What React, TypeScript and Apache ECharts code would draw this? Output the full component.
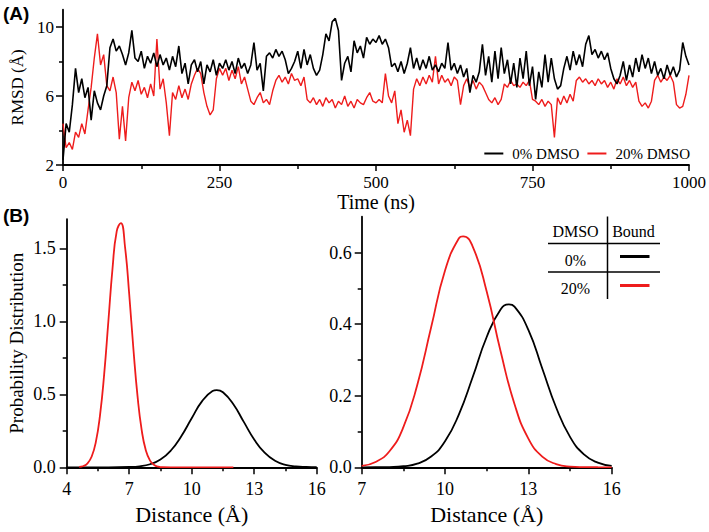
import React, { useEffect, useRef } from "react";
import * as echarts from "echarts";

// ---------- Panel A: RMSD time series (sampled every 5 ns) ----------
const TIME_STEP_NS = 5;
const RMSD_0_DMSO = [
  2.3, 4.4, 3.9, 5.5, 7.6, 6.2, 7.0, 5.9, 6.5, 4.6,
  6.3, 5.6, 5.2, 6.0, 6.6, 8.8, 9.3, 8.6, 8.9, 8.4,
  7.8, 8.5, 9.8, 8.2, 8.0, 8.6, 7.6, 8.3, 7.9, 8.5,
  7.7, 8.4, 7.8, 8.2, 7.5, 8.3, 7.7, 8.9, 7.3, 7.9,
  6.7, 7.8, 8.1, 7.4, 8.0, 6.7, 7.8, 7.4, 8.1, 7.2,
  7.9, 7.6, 8.1, 7.5, 8.0, 7.3, 8.2, 7.6, 7.9, 7.3,
  7.8, 9.1, 7.5, 7.9, 6.3, 8.3, 8.5, 8.2, 8.7, 8.3,
  8.6, 8.1, 7.3, 7.6, 8.0, 8.6, 7.6, 8.7, 7.8, 8.4,
  7.6, 7.2, 7.5, 8.4, 9.6, 9.2, 10.3, 10.5, 9.8, 6.9,
  7.9, 8.3, 7.4, 9.2, 8.5, 8.9, 8.2, 9.4, 9.0, 9.3,
  9.1, 9.5, 9.0, 9.3, 8.8, 7.7, 7.9, 7.4, 8.0, 7.3,
  7.9, 8.8, 7.6, 8.2, 7.5, 8.1, 7.6, 8.3, 7.5, 7.8,
  7.4, 7.9, 7.6, 9.1, 7.5, 7.9, 7.3, 7.8, 7.1, 7.6,
  6.2, 7.2, 6.8, 7.4, 9.0, 7.2, 8.3, 6.8, 8.6, 7.0,
  8.8, 7.3, 8.1, 6.7, 7.9, 6.5, 8.2, 7.0, 8.6, 6.6,
  7.7, 5.8, 7.4, 6.5, 8.4, 6.8, 8.2, 7.0, 6.4, 6.6,
  7.6, 8.3, 7.5, 8.6, 7.8, 8.4, 7.7, 9.0, 9.5, 8.4,
  8.7, 8.2, 8.6, 8.1, 8.5, 7.6, 7.0, 6.7, 7.2, 8.0,
  6.9, 7.8, 7.1, 8.2, 7.4, 8.4, 7.6, 8.2, 7.3, 8.0,
  7.2, 7.6, 7.0, 7.8, 7.2, 7.7, 7.1, 7.5, 9.1, 8.3,
  7.8,
];
const RMSD_20_DMSO = [
  4.4, 3.0, 3.3, 2.9, 3.9, 3.6, 4.4, 3.8, 5.2, 6.5,
  8.2, 9.6, 7.8, 8.4, 6.6, 6.3, 7.1, 6.2, 3.5, 5.4,
  3.4, 5.9, 6.8, 6.3, 6.9, 6.1, 6.5, 5.9, 6.7, 6.0,
  9.3, 6.4, 7.0, 5.6, 3.7, 6.2, 5.8, 6.6, 5.9, 6.4,
  5.8, 6.7, 7.2, 7.6, 7.3, 6.2, 5.4, 4.9, 5.2, 7.0,
  7.6, 7.2, 7.6, 6.9, 7.5, 7.0, 7.7, 6.7, 7.1, 6.4,
  5.7, 5.5, 5.9, 6.2, 5.6, 5.8, 5.5, 6.3, 6.9, 7.2,
  6.8, 7.1, 6.7, 7.3, 6.9, 7.0, 6.6, 7.1, 5.8, 5.6,
  5.9, 5.5, 5.8, 5.4, 5.9, 5.6, 5.8, 5.3, 5.7, 5.5,
  6.0, 5.4, 5.7, 5.3, 5.8, 5.6, 5.5, 5.9, 6.2, 5.7,
  5.6, 5.8, 5.6, 7.3, 6.0, 5.6, 6.3, 4.4, 5.2, 3.9,
  4.6, 3.7, 6.4, 7.0, 6.6, 7.1, 6.7, 7.2, 6.8, 8.3,
  6.7, 7.2, 6.8, 7.0, 6.6, 7.1, 6.9, 5.5, 6.6, 7.0,
  6.5, 6.9, 6.4, 6.8, 6.6, 6.2, 5.8, 5.6, 5.9, 5.5,
  5.8, 6.7, 6.5, 6.9, 6.6, 6.7, 6.5, 6.8, 6.6, 6.9,
  5.8, 5.7, 5.5, 5.8, 5.4, 5.7, 5.5, 3.6, 5.9, 5.5,
  6.0, 5.6, 6.1, 5.7, 6.9, 7.1, 6.8, 7.0, 6.7, 6.9,
  6.6, 7.0, 6.7, 6.9, 6.5, 6.8, 6.4, 7.0, 6.7, 7.1,
  6.6, 6.9, 6.5, 6.8, 5.7, 5.4, 5.6, 5.3, 5.7, 6.9,
  7.2, 6.8, 7.1, 6.9, 7.2, 6.8, 5.5, 5.3, 5.4, 6.1,
  7.2,
];
const TIME_TICK_LABELS = [0, 250, 500, 750, 1000];
const RMSD_TICK_LABELS = [2, 6, 10];
const RMSD_MINOR_TICKS = [4, 8];

// ---------- Panel B (left): distance distributions ----------
const BL_RED_X = [4.6, 4.8, 5.0, 5.2, 5.4, 5.6, 5.8, 6.0, 6.2, 6.4, 6.6, 6.8, 7.0, 7.2, 7.4, 7.6, 7.8, 8.0, 8.2, 8.4, 8.6, 9, 10, 11, 12];
const BL_RED_Y = [0.0025, 0.0088, 0.027, 0.074, 0.174, 0.358, 0.64, 1.0, 1.362, 1.616, 1.673, 1.509, 1.187, 0.814, 0.487, 0.254, 0.115, 0.046, 0.016, 0.005, 0.001, 0, 0, 0, 0];
const BL_BLACK_X = [4, 5, 6, 7, 7.5, 8, 8.5, 9, 9.5, 10, 10.5, 11, 11.2, 11.5, 12, 12.5, 13, 13.5, 14, 14.5, 15, 15.5, 16];
const BL_BLACK_Y = [0, 0, 0, 0.002, 0.007, 0.021, 0.053, 0.115, 0.213, 0.336, 0.453, 0.522, 0.529, 0.514, 0.432, 0.311, 0.191, 0.1, 0.045, 0.017, 0.006, 0.002, 0.0004];
const BL_X_LABELS = [4, 7, 10, 13, 16];
const BL_X_MINOR = [5.5, 8.5, 11.5, 14.5];
const BL_Y_LABELS = [0, 0.5, 1.0, 1.5];
const BL_Y_MINOR = [0.25, 0.75, 1.25];

// ---------- Panel B (right) ----------
const BR_RED_X = [7, 7.5, 8, 8.5, 9, 9.5, 10, 10.5, 10.65, 11, 11.5, 12, 12.5, 13, 13.5, 14, 14.5, 15, 15.5, 16];
const BR_RED_Y = [0.004, 0.015, 0.045, 0.112, 0.23, 0.391, 0.55, 0.64, 0.645, 0.616, 0.491, 0.324, 0.177, 0.08, 0.03, 0.009, 0.002, 0.0005, 0.0001, 0];
const BR_BLACK_X = [7, 7.5, 8, 8.5, 9, 9.5, 10, 10.5, 11, 11.5, 12, 12.3, 12.5, 13, 13.5, 14, 14.5, 15, 15.5, 16];
const BR_BLACK_Y = [0, 0.0001, 0.0007, 0.003, 0.01, 0.03, 0.0725, 0.148, 0.253, 0.364, 0.441, 0.455, 0.449, 0.384, 0.276, 0.167, 0.085, 0.036, 0.013, 0.004];
const BR_X_LABELS = [7, 10, 13, 16];
const BR_X_MINOR = [8.5, 11.5, 14.5];
const BR_Y_LABELS = [0, 0.2, 0.4, 0.6];
const BR_Y_MINOR = [0.1, 0.3, 0.5];

const SERIES_NAMES = ["0% DMSO", "20% DMSO"];
const TABLE_ROWS = ["0%", "20%"];

const SERIF = "'Liberation Serif', 'Times New Roman', serif";
const BLACK = "#000000";
const RED = "#ee1c1c";

const pairs = (xs: number[], ys: number[]) => xs.map((x, i) => [x, ys[i]]);
const timePairs = (ys: number[]) => ys.map((y, i) => [i * TIME_STEP_NS, y]);

const axisLineStyle = { lineStyle: { color: BLACK, width: 1.8 } };
const majorTick = (vals: number[] | null, length = 7) => ({
  show: true,
  length,
  lineStyle: { color: BLACK, width: 1.5 },
  ...(vals ? { customValues: vals } : {}),
});

function mainValueAxis(gridIndex: number, min: number, max: number, labels: number[], fontSize: number, margin: number, fmt?: (v: number) => string, extra: any = {}) {
  return {
    type: "value",
    gridIndex,
    min,
    max,
    axisLine: { show: true, onZero: false, ...axisLineStyle },
    axisTick: majorTick(labels),
    axisLabel: {
      customValues: labels,
      fontFamily: SERIF,
      fontSize,
      color: BLACK,
      margin,
      formatter: fmt ? fmt : (v: number) => String(v),
    },
    splitLine: { show: false },
    ...extra,
  };
}

function minorAxis(gridIndex: number, min: number, max: number, vals: number[], position: string) {
  return {
    type: "value",
    gridIndex,
    min,
    max,
    position,
    offset: 0,
    axisLine: { show: false },
    axisTick: { show: true, length: 4, customValues: vals, lineStyle: { color: BLACK, width: 1.5 } },
    axisLabel: { show: false },
    splitLine: { show: false },
  };
}

const curve = (xAxisIndex: number, yAxisIndex: number, data: number[][], color: string) => ({
  type: "line",
  xAxisIndex,
  yAxisIndex,
  data,
  symbol: "none",
  smooth: 0.5,
  lineStyle: { color, width: 1.8 },
});

export default function App() {
  const ref = useRef<HTMLDivElement>(null);

  useEffect(() => {
    if (!ref.current) return;
    const chart = echarts.init(ref.current, undefined, { renderer: "svg" });

    const nameStyle = (size: number) => ({ fontFamily: SERIF, fontSize: size, color: BLACK, fontWeight: "normal" });

    const option: any = {
      animation: false,
      backgroundColor: "#ffffff",
      textStyle: { fontFamily: SERIF },
      grid: [
        { left: 63, right: 19, top: 9.75, height: 155.25 },
        { left: 66.7, width: 250, top: 219.1, height: 248.2 },
        { left: 361.7, width: 250, top: 216.7, height: 250.6 },
      ],
      legend: {
        data: SERIES_NAMES,
        right: 19,
        top: 146,
        padding: 0,
        itemGap: 8,
        itemWidth: 19,
        itemHeight: 2,
        icon: "rect",
        textStyle: { fontFamily: SERIF, fontSize: 15, color: BLACK, padding: [0, 0, 0, 4] },
      },
      xAxis: [
        {
          type: "value",
          gridIndex: 0,
          min: 0,
          max: 1000,
          interval: 250,
          axisLine: { show: true, onZero: false, ...axisLineStyle },
          axisTick: majorTick(null, 6),
          minorTick: { show: true, splitNumber: 2, length: 4, lineStyle: { color: BLACK, width: 1.5 } },
          minorSplitLine: { show: false },
          axisLabel: {
            customValues: TIME_TICK_LABELS,
            fontFamily: SERIF,
            fontSize: 17,
            color: BLACK,
            margin: 9,
            formatter: (v: number) => String(v),
          },
          splitLine: { show: false },
          name: "Time (ns)",
          nameLocation: "middle",
          nameGap: 23,
          nameTextStyle: nameStyle(20),
        },
        mainValueAxis(1, 4, 16, BL_X_LABELS, 18, 13, undefined, {
          name: "Distance (Å)",
          nameLocation: "middle",
          nameGap: 36,
          nameTextStyle: nameStyle(22),
        }),
        minorAxis(1, 4, 16, BL_X_MINOR, "bottom"),
        mainValueAxis(2, 7, 16, BR_X_LABELS, 18, 13, undefined, {
          name: "Distance (Å)",
          nameLocation: "middle",
          nameGap: 36,
          nameTextStyle: nameStyle(22),
        }),
        minorAxis(2, 7, 16, BR_X_MINOR, "bottom"),
      ],
      yAxis: [
        mainValueAxis(0, 2, 11, RMSD_TICK_LABELS, 17, 9, undefined, {
          position: "left",
          name: "RMSD (Å)",
          nameLocation: "middle",
          nameGap: 24,
          nameTextStyle: nameStyle(17),
        }),
        minorAxis(0, 2, 11, RMSD_MINOR_TICKS, "left"),
        mainValueAxis(1, 0, 1.7, BL_Y_LABELS, 18, 11, (v: number) => v.toFixed(1), {
          position: "left",
          name: "Probability Distribution",
          nameLocation: "middle",
          nameGap: 41,
          nameTextStyle: nameStyle(19),
        }),
        minorAxis(1, 0, 1.7, BL_Y_MINOR, "left"),
        mainValueAxis(2, 0, 0.7, BR_Y_LABELS, 18, 10, (v: number) => v.toFixed(1), { position: "left" }),
        minorAxis(2, 0, 0.7, BR_Y_MINOR, "left"),
      ],
      series: [
        {
          name: SERIES_NAMES[1],
          type: "line",
          xAxisIndex: 0,
          yAxisIndex: 0,
          data: timePairs(RMSD_20_DMSO),
          symbol: "none",
          lineStyle: { color: RED, width: 1.4 },
          itemStyle: { color: RED },
        },
        {
          name: SERIES_NAMES[0],
          type: "line",
          xAxisIndex: 0,
          yAxisIndex: 0,
          data: timePairs(RMSD_0_DMSO),
          symbol: "none",
          lineStyle: { color: BLACK, width: 1.6 },
          itemStyle: { color: BLACK },
        },
        curve(1, 2, pairs(BL_BLACK_X, BL_BLACK_Y), BLACK),
        curve(1, 2, pairs(BL_RED_X, BL_RED_Y), RED),
        curve(3, 4, pairs(BR_BLACK_X, BR_BLACK_Y), BLACK),
        curve(3, 4, pairs(BR_RED_X, BR_RED_Y), RED),
      ],
      graphic: [
        {
          type: "text",
          x: 3,
          y: 13,
          style: { text: "(A)", fontFamily: "'Liberation Sans', Arial, sans-serif", fontWeight: "bold", fontSize: 19, fill: BLACK, verticalAlign: "middle" },
        },
        {
          type: "text",
          x: 3,
          y: 215,
          style: { text: "(B)", fontFamily: "'Liberation Sans', Arial, sans-serif", fontWeight: "bold", fontSize: 19, fill: BLACK, verticalAlign: "middle" },
        },
        // legend table for panel B
        { type: "line", shape: { x1: 607.5, y1: 216.5, x2: 607.5, y2: 299 }, style: { stroke: BLACK, lineWidth: 1.5 } },
        { type: "line", shape: { x1: 548, y1: 243.5, x2: 660, y2: 243.5 }, style: { stroke: BLACK, lineWidth: 1.5 } },
        { type: "line", shape: { x1: 548, y1: 272, x2: 660, y2: 272 }, style: { stroke: BLACK, lineWidth: 1.5 } },
        { type: "text", x: 575.5, y: 231.5, style: { text: "DMSO", fontFamily: SERIF, fontSize: 16, fill: BLACK, align: "center", verticalAlign: "middle" } },
        { type: "text", x: 633.5, y: 231.5, style: { text: "Bound", fontFamily: SERIF, fontSize: 16, fill: BLACK, align: "center", verticalAlign: "middle" } },
        { type: "text", x: 575.5, y: 260.5, style: { text: TABLE_ROWS[0], fontFamily: SERIF, fontSize: 16, fill: BLACK, align: "center", verticalAlign: "middle" } },
        { type: "text", x: 575.5, y: 288, style: { text: TABLE_ROWS[1], fontFamily: SERIF, fontSize: 16, fill: BLACK, align: "center", verticalAlign: "middle" } },
        { type: "line", shape: { x1: 620, y1: 256.5, x2: 649.5, y2: 256.5 }, style: { stroke: BLACK, lineWidth: 3 } },
        { type: "line", shape: { x1: 620, y1: 285.5, x2: 649.5, y2: 285.5 }, style: { stroke: RED, lineWidth: 3 } },
      ],
    };

    chart.setOption(option);
    return () => chart.dispose();
  }, []);

  return (
    <div
      ref={ref}
      style={{ position: "fixed", left: 0, top: 0, width: 709, height: 532, background: "#fff" }}
    />
  );
}
